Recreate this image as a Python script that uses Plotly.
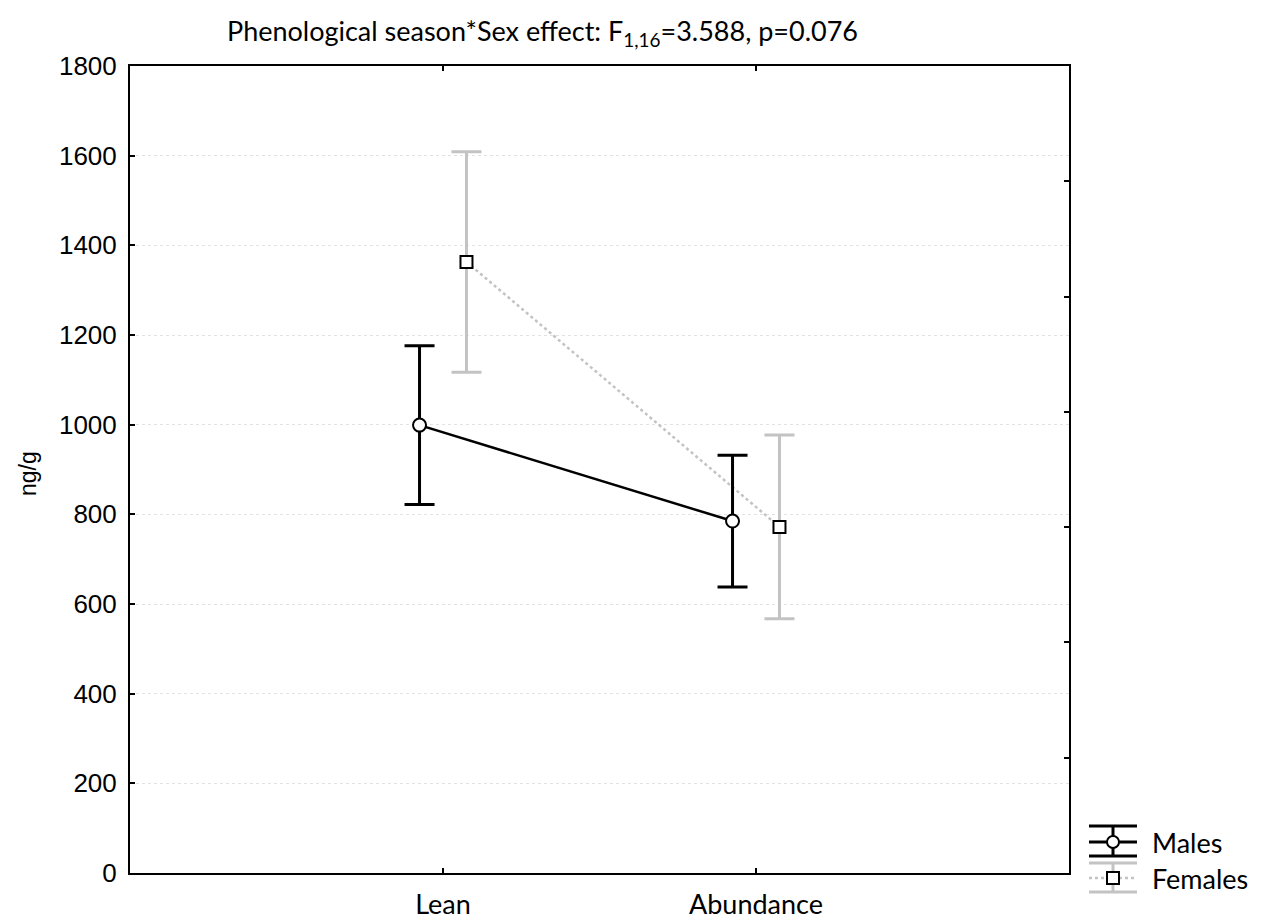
import plotly.graph_objects as go

seasons = ["Lean", "Abundance"]
males_mean = [999, 785]
males_err = [177, 147]
females_mean = [1363, 772]
females_err = [246, 205]
y_ticks = [0, 200, 400, 600, 800, 1000, 1200, 1400, 1600, 1800]

cat_pos = [i + 1 for i in range(len(seasons))]
offset = 0.075
x_m = [p - offset for p in cat_pos]
x_f = [p + offset for p in cat_pos]

BLACK = "#000000"
GRAY = "#c3c3c3"

fig = go.Figure()
fig.add_trace(go.Scatter(
    x=x_f, y=females_mean, mode="lines+markers", name="Females",
    line=dict(color=GRAY, width=2.5, dash="dot"),
    marker=dict(symbol="square", size=12, color="white", line=dict(color=BLACK, width=2)),
    error_y=dict(type="data", array=females_err, color=GRAY, thickness=3, width=15),
    showlegend=False,
))
fig.add_trace(go.Scatter(
    x=x_m, y=males_mean, mode="lines+markers", name="Males",
    line=dict(color=BLACK, width=2.5),
    marker=dict(symbol="circle", size=13, color="white", line=dict(color=BLACK, width=2)),
    error_y=dict(type="data", array=males_err, color=BLACK, thickness=3, width=15),
    showlegend=False,
))
# invisible trace to activate secondary axes for tick marks
fig.add_trace(go.Scatter(x=[None], y=[None], xaxis="x2", yaxis="y2", showlegend=False, hoverinfo="skip"))

fig.update_layout(
    width=1267, height=922,
    margin=dict(l=130, r=198, t=66, b=49, autoexpand=False),
    paper_bgcolor="white", plot_bgcolor="white",
    showlegend=False,
    xaxis=dict(
        range=[0, 3], tickvals=cat_pos, ticktext=seasons,
        ticks="inside", ticklen=5, tickwidth=2, tickcolor=BLACK,
        showline=True, linecolor=BLACK, linewidth=2, mirror=True,
        showgrid=False, zeroline=False, automargin=False,
        tickfont=dict(family="Lato", size=27, color=BLACK),
        ticklabelstandoff=7,
    ),
    yaxis=dict(
        range=[0, 1800], tickvals=y_ticks,
        ticks="inside", ticklen=5, tickwidth=2, tickcolor=BLACK,
        showline=True, linecolor=BLACK, linewidth=2, mirror=True,
        showgrid=True, gridcolor="#e2e2e2", gridwidth=1, griddash="dot",
        zeroline=False, automargin=False,
        tickfont=dict(family="Liberation Sans, Arial", size=26, color=BLACK),
        ticklabelstandoff=6,
    ),
    xaxis2=dict(
        overlaying="x", side="top", range=[0, 3], tickvals=cat_pos,
        ticks="inside", ticklen=5, tickwidth=2, tickcolor=BLACK,
        showticklabels=False, showgrid=False, zeroline=False, showline=False,
        automargin=False,
    ),
    yaxis2=dict(
        overlaying="y", side="right", range=[0, 7], dtick=1,
        ticks="inside", ticklen=5, tickwidth=2, tickcolor=BLACK,
        showticklabels=False, showgrid=False, zeroline=False, showline=False,
        automargin=False,
    ),
)

def px(xp):
    return (xp - 130) / 939

def py(yp):
    return (873 - yp) / 807

# Title
fig.add_annotation(
    text="Phenological season*Sex effect: F<sub>1,16</sub>=3.588, p=0.076",
    xref="paper", yref="paper", x=px(542), y=py(33),
    xanchor="center", yanchor="middle", showarrow=False,
    font=dict(family="Lato", size=27, color=BLACK),
)
# Y axis title
fig.add_annotation(
    text="ng/g", textangle=-90,
    xref="paper", yref="paper", x=px(28), y=py(474),
    xanchor="center", yanchor="middle", showarrow=False,
    font=dict(family="Liberation Sans, Arial", size=23, color=BLACK),
)

# Custom legend (paper coordinates)
shapes = []
for yy in (826, 842, 856):
    shapes.append(dict(type="line", xref="paper", yref="paper", x0=px(1089), x1=px(1137), y0=py(yy), y1=py(yy),
                       line=dict(color=BLACK, width=3)))
shapes.append(dict(type="line", xref="paper", yref="paper", x0=px(1113), x1=px(1113), y0=py(826), y1=py(856),
                   line=dict(color=BLACK, width=3)))
shapes.append(dict(type="circle", xref="paper", yref="paper", x0=px(1107), x1=px(1119), y0=py(848), y1=py(836),
                   line=dict(color=BLACK, width=2), fillcolor="white"))
for yy in (863, 892):
    shapes.append(dict(type="line", xref="paper", yref="paper", x0=px(1089), x1=px(1137), y0=py(yy), y1=py(yy),
                       line=dict(color=GRAY, width=3)))
shapes.append(dict(type="line", xref="paper", yref="paper", x0=px(1089), x1=px(1137), y0=py(878), y1=py(878),
                   line=dict(color=GRAY, width=2.5, dash="dot")))
shapes.append(dict(type="line", xref="paper", yref="paper", x0=px(1113), x1=px(1113), y0=py(863), y1=py(892),
                   line=dict(color=GRAY, width=3)))
shapes.append(dict(type="rect", xref="paper", yref="paper", x0=px(1107), x1=px(1119), y0=py(884), y1=py(872),
                   line=dict(color=BLACK, width=2), fillcolor="white"))
fig.update_layout(shapes=shapes)

for label, yy in (("Males", 842), ("Females", 878)):
    fig.add_annotation(text=label, xref="paper", yref="paper", x=px(1150), y=py(yy),
                       xanchor="left", yanchor="middle", showarrow=False,
                       font=dict(family="Lato", size=27, color=BLACK))

fig.write_html("out.html")
